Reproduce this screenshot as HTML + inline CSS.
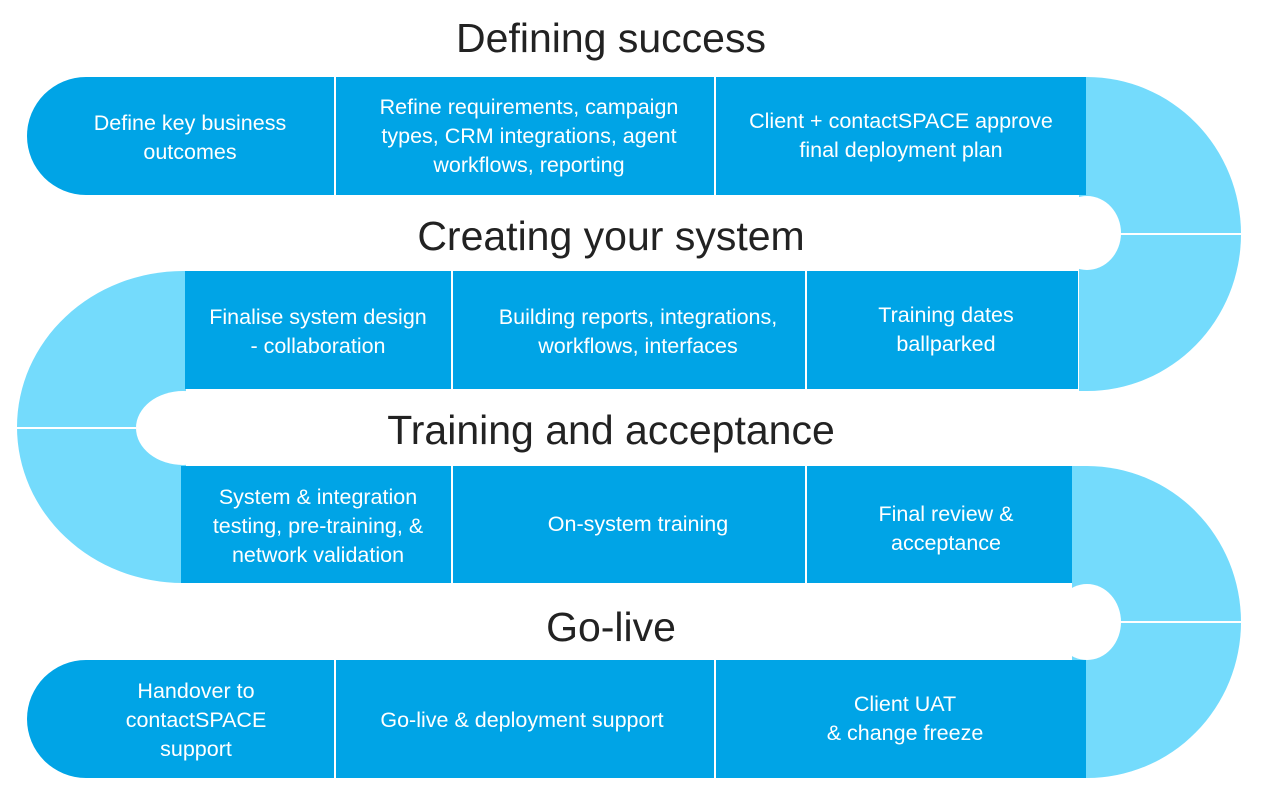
<!DOCTYPE html>
<html><head><style>body{margin:0;background:#fff}svg{display:block}</style></head><body>
<svg width="1262" height="798" xmlns="http://www.w3.org/2000/svg" font-family="'Liberation Sans', sans-serif">
<g fill="#74dbfc">
<path d="M1079,77 L1087,77 A154,157 0 0 1 1087,391 L1079,391 Z"/>
<path d="M1072,466 L1087,466 A154,156 0 0 1 1087,778 L1072,778 Z"/>
<path d="M186,271 L183,271 A166,156 0 0 0 183,583 L186,583 Z"/>
</g>
<g fill="#fff">
<ellipse cx="1087" cy="233" rx="34" ry="37"/>
<ellipse cx="1087" cy="622" rx="34" ry="38"/>
<ellipse cx="183" cy="428" rx="47" ry="37"/>
</g>
<g fill="#00a4e6">
<path d="M86,77 L334,77 L334,195 L86,195 A59,59 0 0 1 86,77 Z"/>
<rect x="336" y="77" width="378" height="118"/>
<rect x="716" y="77" width="370" height="118"/>
<rect x="185" y="271" width="266" height="118"/>
<rect x="453" y="271" width="352" height="118"/>
<rect x="807" y="271" width="271" height="118"/>
<rect x="181" y="466" width="270" height="117"/>
<rect x="453" y="466" width="352" height="117"/>
<rect x="807" y="466" width="265" height="117"/>
<path d="M86,660 L334,660 L334,778 L86,778 A59,59 0 0 1 86,660 Z"/>
<rect x="336" y="660" width="378" height="118"/>
<rect x="716" y="660" width="370" height="118"/>
</g>
<g stroke="#fff" stroke-width="2">
<line x1="1087" y1="234" x2="1244" y2="234"/>
<line x1="1087" y1="622" x2="1244" y2="622"/>
<line x1="14" y1="428" x2="136" y2="428"/>
</g>
<g font-size="41" fill="#222" text-anchor="middle">
<text x="611" y="52">Defining success</text>
<text x="611" y="250">Creating your system</text>
<text x="611" y="444">Training and acceptance</text>
<text x="611" y="641">Go-live</text>
</g>
<g font-size="21.5" fill="#fff" text-anchor="middle">
<text x="190" y="130">Define key business</text><text x="190" y="159">outcomes</text>
<text x="529" y="114">Refine requirements, campaign</text><text x="529" y="143">types, CRM integrations, agent</text><text x="529" y="172">workflows, reporting</text>
<text x="901" y="128">Client + contactSPACE approve</text><text x="901" y="157">final deployment plan</text>
<text x="318" y="324">Finalise system design</text><text x="318" y="353">- collaboration</text>
<text x="638" y="324">Building reports, integrations,</text><text x="638" y="353">workflows, interfaces</text>
<text x="946" y="322">Training dates</text><text x="946" y="351">ballparked</text>
<text x="318" y="504">System &amp; integration</text><text x="318" y="533">testing, pre-training, &amp;</text><text x="318" y="562">network validation</text>
<text x="638" y="531">On-system training</text>
<text x="946" y="521">Final review &amp;</text><text x="946" y="550">acceptance</text>
<text x="196" y="698">Handover to</text><text x="196" y="727">contactSPACE</text><text x="196" y="756">support</text>
<text x="522" y="727">Go-live &amp; deployment support</text>
<text x="905" y="711">Client UAT</text><text x="905" y="740">&amp; change freeze</text>
</g>
</svg>
</body></html>
